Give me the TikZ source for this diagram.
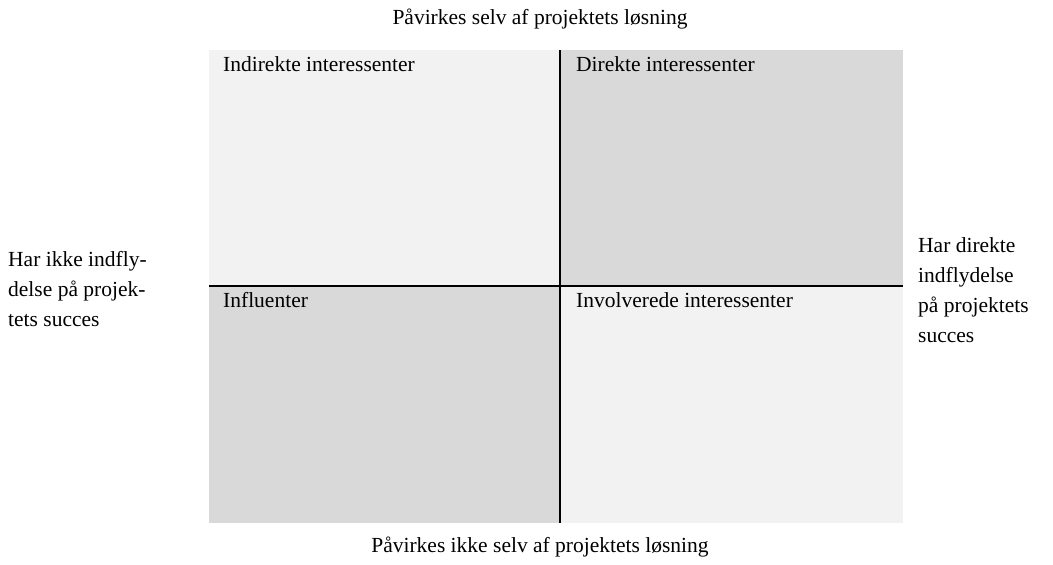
\documentclass[tikz,border=0pt]{standalone}
\usepackage{fontspec}
\setmainfont{Liberation Serif}
\definecolor{lightq}{HTML}{F2F2F2}
\definecolor{darkq}{HTML}{D9D9D9}
\tikzset{
  lbl/.style={font=\fontsize{21.5}{30}\selectfont, inner sep=0pt},
  qlbl/.style={lbl, anchor=north west},
  side/.style={lbl, align=left, anchor=west},
  divider/.style={line width=2pt, black}
}
\begin{document}
\begin{tikzpicture}[x=1pt,y=-1pt]
\useasboundingbox (0,0) rectangle (1053,565);
\fill[lightq] (209,50) rectangle (560,286);
\fill[darkq] (560,50) rectangle (903,286);
\fill[darkq] (209,286) rectangle (560,523);
\fill[lightq] (560,286) rectangle (903,523);
\coordinate (vt) at (560,50);
\coordinate (vb) at (560,523);
\coordinate (hl) at (209,286);
\coordinate (hr) at (903,286);
\draw[divider] (vt) -- (vb);
\draw[divider] (hl) -- (hr);
\node[lbl] (top) at (540,19) {Påvirkes selv af projektets løsning};
\node[lbl] (bot) at (540,547) {Påvirkes ikke selv af projektets løsning};
\node[qlbl] (q1) at (223,56) {Indirekte interessenter};
\node[qlbl] (q2) at (576,56) {Direkte interessenter};
\node[qlbl] (q3) at (223,292) {Influenter};
\node[qlbl] (q4) at (576,292) {Involverede interessenter};
\node[side] (l) at (8,289) {Har ikke indfly-\\delse på projek-\\tets succes};
\node[side] (r) at (918,290) {Har direkte\\indflydelse\\på projektets\\succes};
\end{tikzpicture}
\end{document}
